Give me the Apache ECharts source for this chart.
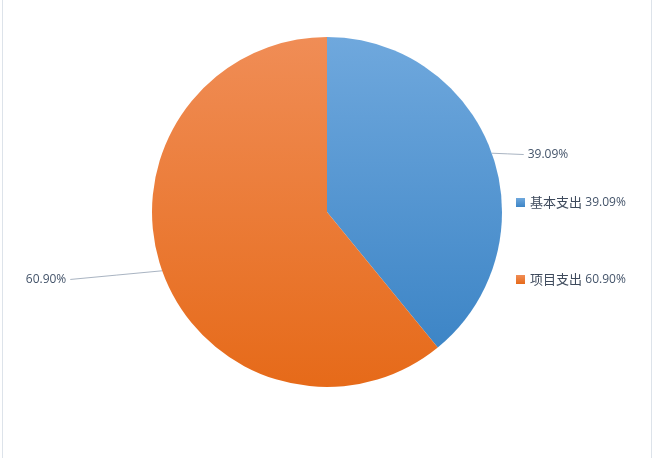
<!DOCTYPE html>
<html>
<head>
<meta charset="utf-8">
<script src="https://cdn.jsdelivr.net/npm/echarts@6/dist/echarts.min.js"></script>
<style>html,body{margin:0;padding:0;background:#fff;}#main{width:654px;height:458px;}</style>
</head>
<body>
<div id="main"></div>
<script>
var categories = ['基本支出', '项目支出'];
var values = [39.09, 60.90];
var gradTop = ['#6fa8dd', '#f08d56'];
var gradBottom = ['#3d85c6', '#e66a19'];
var labelLen2 = [30, 90];
var labelDy = [2, 8];

var chart = echarts.init(document.getElementById('main'));
var data = categories.map(function (c, i) {
  return {
    name: c,
    value: values[i],
    itemStyle: {
      color: new echarts.graphic.LinearGradient(0, 0, 0, 1, [
        { offset: 0, color: gradTop[i] },
        { offset: 1, color: gradBottom[i] }
      ])
    },
    labelLine: { length: 2, length2: labelLen2[i] }
  };
});
var valueMap = {};
categories.forEach(function (c, i) { valueMap[c] = values[i]; });

chart.setOption({
  backgroundColor: '#ffffff',
  animation: false,
  legend: {
    orient: 'vertical',
    left: 511,
    top: 191,
    itemWidth: 9,
    itemHeight: 9,
    itemGap: 64,
    icon: 'rect',
    data: categories.map(function (c, i) {
      return { name: c, itemStyle: { color: new echarts.graphic.LinearGradient(0, 0, 0, 1, [
        { offset: 0, color: gradTop[i] }, { offset: 1, color: gradBottom[i] }]) } };
    }),
    formatter: function (name) {
      return '{a|' + name + '} {b|' + valueMap[name].toFixed(2) + '%}';
    },
    textStyle: {
      rich: {
        a: { fontSize: 13, color: '#3e4a5c', fontFamily: 'Noto Sans CJK SC' },
        b: { fontSize: 12, color: '#44546a', fontFamily: 'Open Sans, DejaVu Sans, sans-serif' }
      }
    }
  },
  graphic: [
    { type: 'line', shape: { x1: 2.5, y1: 0, x2: 2.5, y2: 458 }, style: { stroke: '#dde3ea', lineWidth: 1 } },
    { type: 'line', shape: { x1: 651.5, y1: 0, x2: 651.5, y2: 458 }, style: { stroke: '#dde3ea', lineWidth: 1 } }
  ],
  series: [{
    type: 'pie',
    center: [327, 212],
    radius: 175,
    startAngle: 90,
    clockwise: true,
    avoidLabelOverlap: false,
    data: data,
    label: {
      show: true,
      position: 'outside',
      formatter: function (p) { return p.value.toFixed(2) + '%'; },
      fontSize: 12,
      color: '#44546a',
      fontFamily: 'Open Sans, DejaVu Sans, sans-serif',
      distanceToLabelLine: 4
    },
    labelLine: {
      show: true,
      smooth: false,
      lineStyle: { color: '#a9b4c2', width: 1 }
    },
    labelLayout: function (params) {
      var dy = labelDy[params.dataIndex];
      var pts = params.labelLinePoints;
      if (!pts) return { dy: dy };
      var p0 = pts[0], pe = pts[pts.length - 1];
      var end = [pe[0], pe[1] + dy];
      return {
        dy: dy,
        labelLinePoints: [p0, [(p0[0] + end[0]) / 2, (p0[1] + end[1]) / 2], end]
      };
    },
    emphasis: { disabled: true }
  }]
});
</script>
</body>
</html>
